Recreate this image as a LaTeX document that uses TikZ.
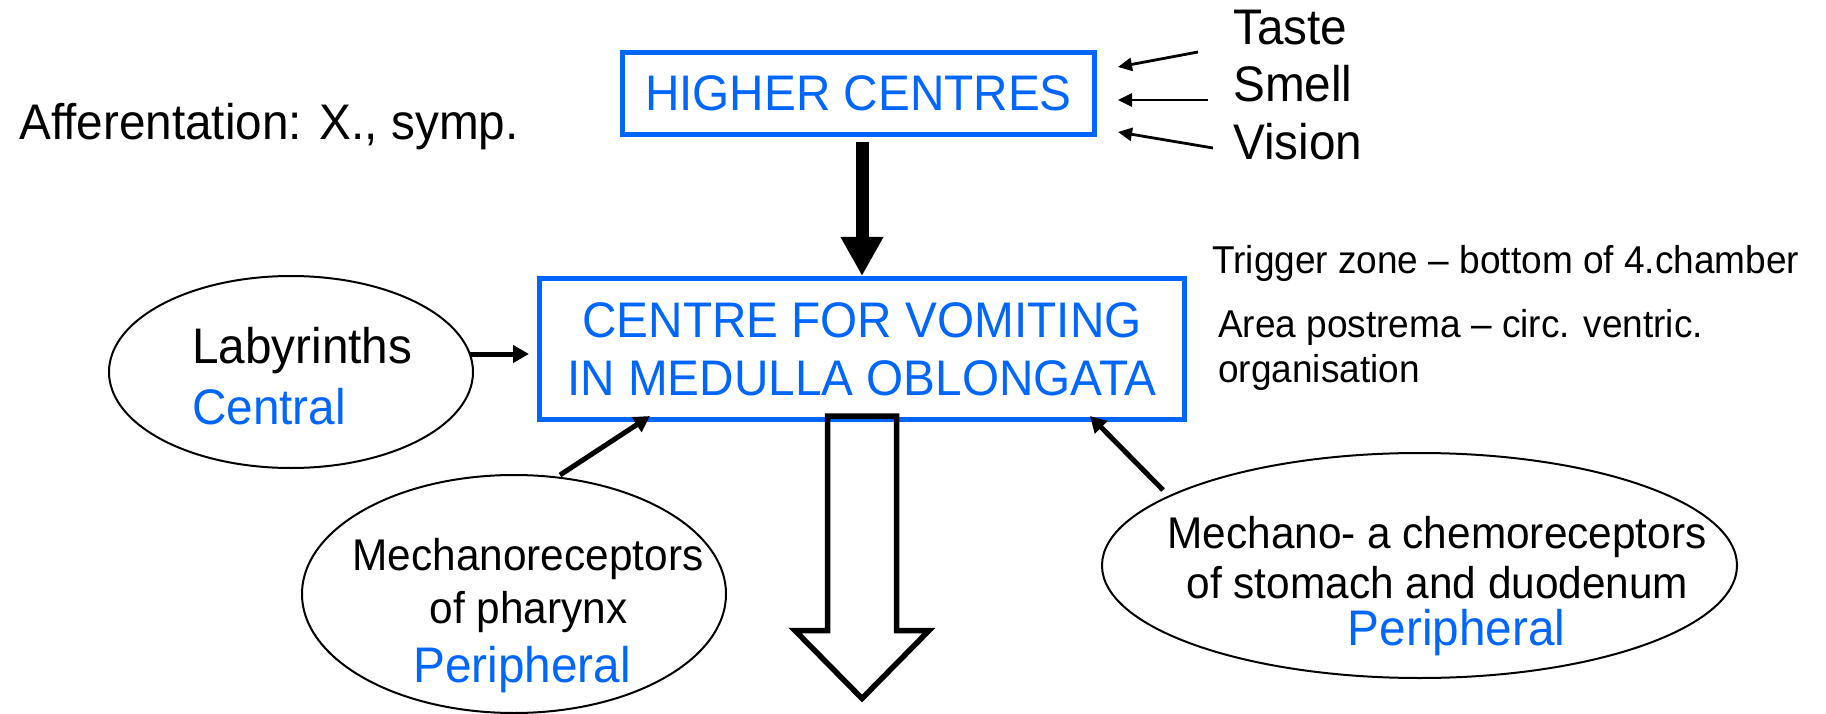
\documentclass[tikz,border=0pt]{standalone}
\usepackage{fontspec}
\setmainfont{Liberation Sans}[FakeStretch=0.954]
\usetikzlibrary{shapes.geometric,arrows.meta,calc}
\definecolor{myblue}{RGB}{0,102,255}
\newcommand\fbig{\fontsize{50}{58}\selectfont}
\newcommand\fmed{\fontsize{44.4}{53}\selectfont}
\newcommand\fsmall{\fontsize{38.8}{45}\selectfont}
\begin{document}
\begin{tikzpicture}[x=1pt,y=-1pt,
  bluebox/.style={draw=myblue, line width=5pt, inner sep=0pt, text=myblue, font=\fbig, align=center},
  oval/.style={ellipse, draw, line width=2pt, inner sep=0pt},
  txtbig/.style={inner sep=0pt, font=\fbig},
  txtmed/.style={inner sep=0pt, font=\fmed},
  txtsmall/.style={inner sep=0pt, font=\fsmall},
  thinarrow/.style={line width=2.8pt, -{Triangle[length=14pt,width=13pt]}},
  midarrow/.style={line width=5pt, -{Triangle[length=16pt,width=17pt]}},
  bigarrow/.style={line width=13pt, -{Triangle[length=39pt,width=40pt]}},
  hollow/.style={line width=5.5pt, line join=miter}]
\path[use as bounding box] (0,0) rectangle (1826,714);

% boxes
\node[bluebox, minimum width=472pt, minimum height=82pt] (hc) at (858.5,93.5) {HIGHER CENTRES};
\node[bluebox, minimum width=645pt, minimum height=141pt] (cv) at (862,349) {CENTRE FOR VOMITING\\IN MEDULLA OBLONGATA};

% ellipses
\node[oval, minimum width=364pt, minimum height=192pt] (lab) at (291,372) {};
\node[oval, minimum width=424pt, minimum height=238pt] (phar) at (514,594) {};
\node[oval, minimum width=635pt, minimum height=225pt] (stom) at (1419.5,565.5) {};

% texts
\node[txtbig, anchor=base west] (aff) at (19,140) {Afferentation: X., symp.};
\node[txtbig, anchor=base west] (taste) at (1233,45) {Taste};
\node[txtbig, anchor=base west] (smell) at (1233,102) {Smell};
\node[txtbig, anchor=base west] (vision) at (1233,160) {Vision};
\node[txtsmall, anchor=base west] (trig) at (1212,273) {Trigger zone – bottom of 4.chamber};
\node[txtsmall, anchor=base west] (area) at (1218,337) {Area postrema – circ. ventric.};
\node[txtsmall, anchor=base west] (org) at (1218,382) {organisation};

\node[txtbig, anchor=base west] (labA) at (192,363) {Labyrinths};
\node[txtbig, anchor=base west, text=myblue] (labB) at (192,424) {Central};

\node[txtmed, anchor=base] (pharA) at (528,570) {Mechanoreceptors};
\node[txtmed, anchor=base] (pharB) at (528.5,623) {of pharynx};
\node[txtbig, anchor=base, text=myblue] (pharC) at (522,682) {Peripheral};

\node[txtmed, anchor=base] (stomA) at (1437,548) {Mechano- a chemoreceptors};
\node[txtmed, anchor=base] (stomB) at (1437.5,598) {of stomach and duodenum};
\node[txtbig, anchor=base, text=myblue] (stomC) at (1456.5,645) {Peripheral};

% connector end points
\coordinate (ta) at (1198,52);   \coordinate (tb) at (1118,67);
\coordinate (sa) at (1208,100);  \coordinate (sb) at (1118,100);
\coordinate (va) at (1213,148);  \coordinate (vb) at (1118,132);
\coordinate (hcout) at (862,142);
\coordinate (labout) at (470,354); \coordinate (labin) at (529,354);
\coordinate (pharout) at (560,475); \coordinate (pharin) at (650,416);
\coordinate (stomout) at (1163,490); \coordinate (stomin) at (1090,416);

% connectors
\draw[thinarrow] (ta) -- (tb);
\draw[thinarrow] (sa) -- (sb);
\draw[thinarrow] (va) -- (vb);
\draw[bigarrow] (hcout) -- (cv.north);
\draw[midarrow] (labout) -- (labin);
\draw[midarrow] (pharout) -- (pharin);
\draw[midarrow] (stomout) -- (stomin);

% hollow output arrow
\draw[hollow] (827.5,416) -- (827.5,630.5) -- (795,630.5) -- (862,698.5) -- (929,630.5) -- (896.5,630.5) -- (896.5,416) -- cycle;
\end{tikzpicture}
\end{document}
